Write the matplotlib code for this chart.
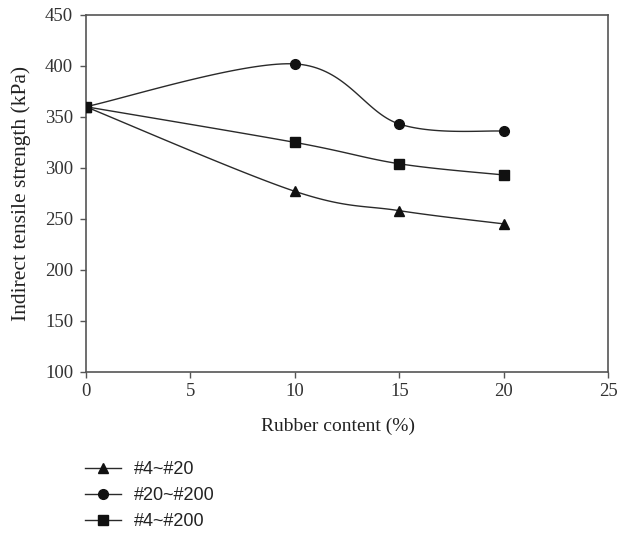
import numpy as np
import matplotlib
matplotlib.use("Agg")
import matplotlib.pyplot as plt
from matplotlib.lines import Line2D

# ---- data ----
rubber_content = [0, 10, 15, 20]
its_4_20 = [360, 277, 258, 245]
its_20_200 = [360, 402, 343, 336]
its_4_200 = [360, 325, 304, 293]
series_labels = ["#4~#20", "#20~#200", "#4~#200"]
x_ticks = [0, 5, 10, 15, 20, 25]
y_ticks = [100, 150, 200, 250, 300, 350, 400, 450]

serif = ["Liberation Serif", "DejaVu Serif"]
sans = ["Liberation Sans", "DejaVu Sans"]
line_col = "#2a2a2a"
spine_col = "#555555"

fig = plt.figure(figsize=(6.18, 5.33), dpi=100)
ax = fig.add_axes([0.1387, 0.3026, 0.9846 - 0.1387, 0.9719 - 0.3026])
ax.set_xlim(0, 25)
ax.set_ylim(100, 450)


def smooth(ax, xs, ys, n=40):
    """Excel-like smoothed line (Catmull-Rom Bezier) computed in display space."""
    pts = ax.transData.transform(np.column_stack([xs, ys]))
    m = len(pts)
    out = []
    for i in range(m - 1):
        p0 = pts[max(i - 1, 0)]
        p1 = pts[i]
        p2 = pts[i + 1]
        p3 = pts[min(i + 2, m - 1)]
        c1 = p1 + (p2 - p0) / 6.0
        c2 = p2 - (p3 - p1) / 6.0
        t = np.linspace(0, 1, n)[:, None]
        seg = ((1 - t) ** 3) * p1 + 3 * ((1 - t) ** 2) * t * c1 + 3 * (1 - t) * t ** 2 * c2 + t ** 3 * p2
        out.append(seg if i == 0 else seg[1:])
    out = np.vstack(out)
    d = ax.transData.inverted().transform(out)
    return d[:, 0], d[:, 1]


series = [its_4_20, its_20_200, its_4_200]
markers = ["^", "o", "s"]
msizes = [7.5, 7, 6.5]
handles = []
for vals, mk, ms, lab in zip(series, markers, msizes, series_labels):
    sx, sy = smooth(ax, rubber_content, vals)
    ax.plot(sx, sy, color=line_col, lw=1.0, zorder=2)
    ax.plot(rubber_content, vals, linestyle="none", marker=mk, ms=ms,
            color="#111111", zorder=3)
    handles.append(Line2D([], [], color=line_col, lw=1.0, marker=mk, ms=ms,
                          markerfacecolor="#111111", markeredgecolor="#111111", label=lab))

ax.set_xticks(x_ticks)
ax.set_yticks(y_ticks)
for lbl in ax.get_xticklabels() + ax.get_yticklabels():
    lbl.set_fontfamily(serif)
    lbl.set_fontsize(13.5)
    lbl.set_color("#333333")
ax.tick_params(axis="both", direction="out", length=4, width=1, color=spine_col, pad=5)
ax.tick_params(axis="x", pad=4)
for s in ax.spines.values():
    s.set_color(spine_col)
    s.set_linewidth(1.2)

ax.set_ylabel("Indirect tensile strength (kPa)", family=serif, fontsize=15.5, color="#222222")
ax.yaxis.set_label_coords(-0.104, 0.5)
ax.set_xlabel("Rubber content (%)", family=serif, fontsize=14, color="#222222")
ax.xaxis.set_label_coords(0.482, -0.13)

leg = fig.legend(handles=handles, loc="upper left", bbox_to_anchor=(0.137, 0.135),
                 frameon=False, prop={"family": sans, "size": 13},
                 handlelength=2.0, handletextpad=0.75, labelspacing=0.5,
                 borderpad=0, borderaxespad=0)
for t in leg.get_texts():
    t.set_color("#222222")

fig.savefig("out.png", dpi=100, facecolor="white")
